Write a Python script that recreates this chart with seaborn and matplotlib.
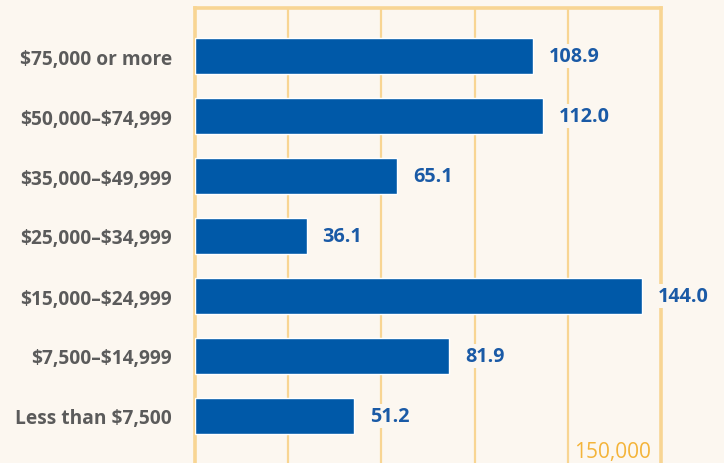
import matplotlib
matplotlib.use("Agg")
import matplotlib.pyplot as plt
import seaborn as sns
import pandas as pd

# income groups, top to bottom
categories = ['$75,000 or more', '$50,000–$74,999', '$35,000–$49,999',
              '$25,000–$34,999', '$15,000–$24,999', '$7,500–$14,999',
              'Less than $7,500']
values = [108.9, 112.0, 65.1, 36.1, 144.0, 81.9, 51.2]
value_labels = ['108.9', '112.0', '65.1', '36.1', '144.0', '81.9', '51.2']
grid_ticks = [30, 60, 90, 120]
axis_max = 150
axis_max_label = '150,000'

bg = '#fcf7f0'
bar_color = '#0059a8'
grid_color = '#f8d593'

df = pd.DataFrame({'group': categories, 'value': values})

sns.set_theme(style='white')
plt.rcParams['font.family'] = ['Open Sans', 'DejaVu Sans']

fig = plt.figure(figsize=(7.24, 4.64), dpi=100)
fig.patch.set_facecolor(bg)
ax = fig.add_axes([195 / 724, -25 / 464, 466 / 724, 480 / 464])
ax.set_facecolor(bg)

sns.barplot(data=df, x='value', y='group', orient='h', color=bar_color,
            saturation=1, width=0.6, ax=ax, zorder=3)

ax.set_xlim(0, axis_max)
ax.set_ylim(7.2, -0.8)
for g in grid_ticks:
    ax.axvline(g, color=grid_color, lw=1.6, zorder=1)

for s in ax.spines.values():
    s.set_color(grid_color)
    s.set_linewidth(2.6)

ax.set_xticks([])
ax.set_xlabel('')
ax.set_ylabel('')
ax.set_yticks(range(len(categories)))
ax.set_yticklabels(categories, parse_math=False, fontsize=13.8,
                   fontweight='bold', color='#5b5b5b')
ax.tick_params(axis='y', length=0, pad=16.5)

for i, (v, lab) in enumerate(zip(values, value_labels)):
    ax.text(v + 5.0, i, lab, va='center', ha='left', fontsize=14.2,
            fontweight='bold', color='#1a5aa6', zorder=4,
            bbox=dict(facecolor=bg, edgecolor='none', pad=1.5))

ax.text(axis_max - 3.2, 6.6, axis_max_label, ha='right', va='center',
        fontsize=15, color='#f4b43a', zorder=4)

fig.savefig('out.png', dpi=100, facecolor=bg)
